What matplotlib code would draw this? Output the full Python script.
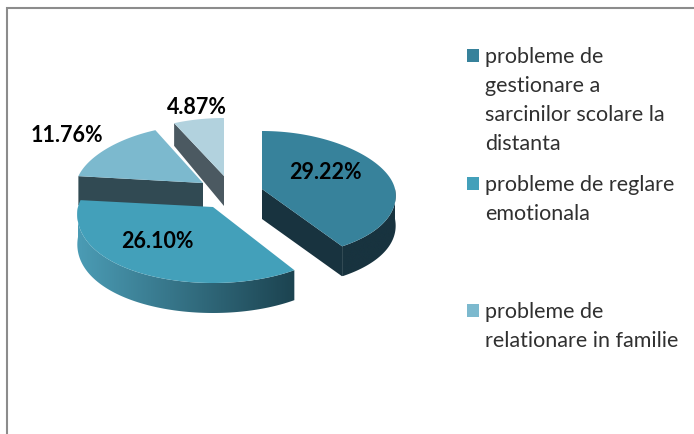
import numpy as np
import matplotlib
matplotlib.use('Agg')
import matplotlib.pyplot as plt
from matplotlib.colors import LinearSegmentedColormap
from matplotlib.patches import Polygon

values = [29.22, 26.10, 11.76, 4.87]
value_labels = ['29.22%', '26.10%', '11.76%', '4.87%']
legend_labels = [
    'probleme de\ngestionare a\nsarcinilor scolare la\ndistanta',
    'probleme de reglare\nemotionala',
    'probleme de\nrelationare in familie',
]

top_colors = ['#37829b', '#43a0ba', '#7cb9ce', '#b2d2de']
face_colors = ['#18333f', '#1c4350', '#314a53', '#4b5961']

# pixel positions of each exploded wedge's tip, and its radii
centers = [(262, 190), (213, 208), (203, 184), (224, 177)]
radii_x = [133, 135, 127, 133]
radii_front = [69, 76, 74, 74]
label_pos = [(325, 173), (157, 242), (67, 136), (197, 108)]
legend_y = [50, 178, 305]

RY_BACK, DEPTH = 58, 30


def point(i, deg, down=0.0):
    # deg runs clockwise from 12 o'clock
    t = np.radians(deg)
    sy = np.cos(t)
    rx = radii_x[i] * (1 - 0.1 * sy)
    ry = np.where(sy > 0, RY_BACK, radii_front[i])
    thick = (DEPTH - 8 * np.clip(sy, 0, 1)) * down
    return centers[i][0] + rx * np.sin(t), centers[i][1] - ry * sy + thick


def draw_rim(ax, i, a0, a1, c_left, c_right, z):
    a0, a1 = max(a0, 90), min(a1, 270)
    ang = np.linspace(a0, a1, 120)
    x1, y1 = point(i, ang)
    x2, y2 = point(i, ang[::-1], 1)
    cmap = LinearSegmentedColormap.from_list('rim', [c_left, c_right])
    im = ax.imshow(np.linspace(0, 1, 256)[None, :], cmap=cmap, aspect='auto', zorder=z,
                   extent=(x1.min(), x1.max(), y2.max(), y1.min()))
    poly = Polygon(np.c_[np.r_[x1, x2], np.r_[y1, y2]], transform=ax.transData)
    im.set_clip_path(poly)


def draw_face(ax, i, deg, color, z):
    x, y = point(i, deg)
    xb, yb = point(i, deg, 1)
    cx, cy = centers[i]
    ax.fill([cx, x, xb, cx], [cy, y, yb, cy + DEPTH], color=color, lw=0, zorder=z)


def draw_top(ax, i, a0, a1, color, z):
    ang = np.linspace(a0, a1, 120)
    x, y = point(i, ang)
    ax.fill(np.r_[centers[i][0], x], np.r_[centers[i][1], y], color=color, lw=0, zorder=z)


def main():
    plt.rcParams['font.family'] = ['Lato', 'DejaVu Sans']
    fig = plt.figure(figsize=(6.94, 4.35), dpi=100)
    ax = fig.add_axes([0, 0, 1, 1])
    ax.axis('off')

    # frame, only top and left are in the crop
    ax.plot([694, 7, 7], [9, 9, 435], color='#8c8c8c', lw=1.5, solid_joinstyle='miter')

    edges = np.r_[0, np.cumsum(values)] / sum(values) * 360

    # back wedges first, wedge 2 overlaps wedge 3
    draw_face(ax, 2, edges[2], face_colors[2], 2)
    draw_top(ax, 2, edges[2], edges[3], top_colors[2], 3)
    draw_face(ax, 3, edges[3], face_colors[3], 2)
    draw_top(ax, 3, edges[3], edges[4], top_colors[3], 3)

    draw_rim(ax, 1, edges[1], edges[2], '#4b9cb5', '#1c4350', 4)
    draw_top(ax, 1, edges[1], edges[2], top_colors[1], 5)

    draw_rim(ax, 0, edges[0], edges[1], face_colors[0], face_colors[0], 4)
    draw_face(ax, 0, edges[1], face_colors[0], 4)
    draw_top(ax, 0, edges[0], edges[1], top_colors[0], 5)

    for (x, y), txt in zip(label_pos, value_labels):
        ax.text(x, y, txt, ha='center', va='center', fontsize=15.5,
                fontweight='bold', color='black', zorder=6)

    for y, txt, col in zip(legend_y, legend_labels, top_colors):
        ax.fill([467, 479, 479, 467], [y, y, y + 13, y + 13], color=col, lw=0)
        ax.text(485, y - 3, txt, ha='left', va='top', fontsize=15.5,
                color='#303030', linespacing=1.56)

    ax.set_xlim(0, 694)
    ax.set_ylim(435, 0)
    fig.savefig('out.png', dpi=100)


if __name__ == '__main__':
    main()
